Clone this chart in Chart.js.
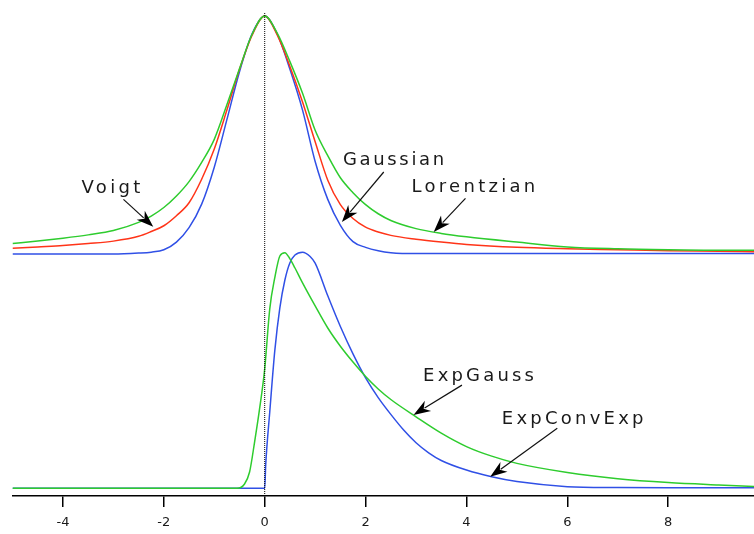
<!DOCTYPE html>
<html>
<head>
<meta charset="utf-8">
<script src="https://cdn.jsdelivr.net/npm/chart.js"></script>
<style>
html,body{margin:0;padding:0;background:#fff;overflow:hidden;}
#wrap{width:754px;height:534px;overflow:hidden;}
</style>
</head>
<body>
<div id="wrap"><canvas id="myChart" width="754" height="540"></canvas></div>
<script>
// top group: symmetric peaks (drawn above the lower group)
const topX=[-5,-4.5,-4,-3.5,-3,-2.5,-2.25,-2,-1.75,-1.5,-1.25,-1,-0.75,-0.5,-0.25,0,0.25,0.5,0.75,1,1.25,1.5,1.75,2,2.25,2.5,3,3.5,4,5,6,7,8,9,9.7];
const voigtY=[52.6,53.1,53.7,54.4,55.3,57.0,58.3,60.1,62.5,65.5,69.5,74.3,81.5,89.0,96.2,100,96.4,90.5,83.9,76.2,70.9,66.3,63.2,60.7,58.8,57.4,55.7,54.7,54.0,52.9,51.9,51.5,51.3,51.2,51.2];
const lorentzianY=[51.6,51.9,52.2,52.6,53.1,54.1,55.1,56.3,58.4,61.1,66.0,72.3,80.4,88.9,96.0,100,96.0,89.5,82.1,73.8,65.8,60.7,57.8,56.0,55.0,54.3,53.5,52.9,52.4,51.8,51.5,51.3,51.1,51.0,50.9];
const gaussianY=[50.4,50.4,50.4,50.4,50.4,50.6,50.8,51.3,52.9,55.9,60.8,68.5,78.4,88.4,96.3,100,96.2,88.9,80.4,69.7,61.8,56.4,53.0,51.8,51.1,50.7,50.5,50.5,50.5,50.5,50.5,50.5,50.5,50.5,50.5];

// lower group: tailed peaks
const expGaussX=[-5,-1,-0.55,-0.4,-0.3,-0.2,-0.1,0,0.1,0.2,0.3,0.4,0.5,0.6,0.75,1,1.25,1.5,1.75,2,2.25,2.5,3,3.5,4,4.5,5,6,7,8,9,9.7];
const expGaussY=[1.6,1.6,1.6,2.5,5.0,11.3,18.3,26.5,39.0,45.5,50.0,50.7,49.4,47.5,44.4,39.6,35.0,31.2,27.9,24.9,22.3,20.1,16.5,13.1,10.3,8.3,6.8,4.9,3.6,2.8,2.3,2.0];
const expConvX=[-5,-1,0,0.02,0.1,0.2,0.3,0.4,0.5,0.6,0.75,0.9,1,1.25,1.5,1.75,2,2.25,2.5,2.75,3,3.25,3.5,4,4.5,5,6,7,8,9.7];
const expConvExpY=[1.6,1.6,1.6,6.5,17.5,30.3,39.2,45.0,48.6,50.2,50.8,49.9,48.5,41.7,35.3,29.6,24.6,20.5,17.0,13.8,11.1,9.0,7.4,5.4,4.0,3.0,1.95,1.75,1.7,1.7];

const tickVals=[-4,-2,0,2,4,6,8];

// text + arrow annotations, in data units
const notes=[
  {text:"Voigt",tx:-3.63,ty:63.2,w:62,fx:-2.80,fy:61.8,ax:-2.21,ay:56.1},
  {text:"Gaussian",tx:1.55,ty:69.0,w:104,fx:2.36,fy:67.5,ax:1.53,ay:57.1},
  {text:"Lorentzian",tx:2.91,ty:63.3,w:127,fx:3.98,fy:62.0,ax:3.35,ay:55.0},
  {text:"ExpGauss",tx:3.14,ty:24.0,w:114,fx:3.91,fy:23.1,ax:2.95,ay:16.9},
  {text:"ExpConvExp",tx:4.70,ty:15.0,w:145,fx:5.80,fy:14.1,ax:4.47,ay:4.0}
];

const GREEN="#2ecc2e", RED="#ff3418", BLUE="#3050e6";

const series=(label,xs,ys,color)=>({
  label:label,
  data:xs.map((x,i)=>({x:x,y:ys[i]})),
  borderColor:color,
  borderWidth:1.5,
  pointRadius:0,
  fill:false,
  cubicInterpolationMode:"monotone",
  order:1
});

const notePlugin={
  id:"notes",
  afterDatasetsDraw(chart){
    const {ctx,scales:{x,y}}=chart;
    ctx.save();
    notes.forEach(n=>{
      const x1=x.getPixelForValue(n.fx),y1=y.getPixelForValue(n.fy);
      const x2=x.getPixelForValue(n.ax),y2=y.getPixelForValue(n.ay);
      const a=Math.atan2(y2-y1,x2-x1),c=Math.cos(a),s=Math.sin(a);
      const hl=17,hw=6;
      const bx=x2-hl*c,by=y2-hl*s;
      ctx.strokeStyle="#111";ctx.lineWidth=1.2;
      ctx.beginPath();ctx.moveTo(x1,y1);ctx.lineTo(bx+4*c,by+4*s);ctx.stroke();
      ctx.fillStyle="#000";
      ctx.beginPath();
      ctx.moveTo(x2,y2);
      ctx.lineTo(bx+hw*s,by-hw*c);
      ctx.lineTo(x2-hl*0.7*c,y2-hl*0.7*s);
      ctx.lineTo(bx-hw*s,by+hw*c);
      ctx.closePath();ctx.fill();
      ctx.font='18px "DejaVu Sans"';
      ctx.letterSpacing="0px";
      const w=ctx.measureText(n.text).width;
      ctx.letterSpacing=((n.w-w)/n.text.length)+"px";
      ctx.fillStyle="#1a1a1a";
      ctx.textAlign="left";ctx.textBaseline="alphabetic";
      ctx.fillText(n.text,x.getPixelForValue(n.tx),y.getPixelForValue(n.ty));
    });
    ctx.restore();
  }
};

const ctx=document.getElementById("myChart").getContext("2d");
new Chart(ctx,{
  type:"line",
  data:{
    datasets:[
      {label:"zero",data:[{x:0,y:0},{x:0,y:100.8}],borderColor:"#000",borderWidth:1,borderDash:[1,1],pointRadius:0,fill:false,order:0},
      series("Voigt",topX,voigtY,GREEN),
      series("Lorentzian",topX,lorentzianY,RED),
      series("Gaussian",topX,gaussianY,BLUE),
      series("ExpGauss",expGaussX,expGaussY,GREEN),
      series("ExpConvExp",expConvX,expConvExpY,BLUE)
    ]
  },
  options:{
    responsive:false,
    animation:false,
    devicePixelRatio:1,
    layout:{padding:{left:12.5,right:0,top:6.4,bottom:1.4}},
    plugins:{legend:{display:false},tooltip:{enabled:false}},
    scales:{
      x:{
        type:"linear",min:-5,max:9.7,
        afterBuildTicks:(s)=>{s.ticks=tickVals.map(v=>({value:v}));},
        grid:{drawOnChartArea:false,drawTicks:true,tickLength:11,color:"#000",lineWidth:1.5},
        border:{display:true,color:"#000",width:1.5},
        ticks:{color:"#1a1a1a",font:{family:"DejaVu Sans",size:13},padding:8,maxRotation:0,autoSkip:false}
      },
      y:{display:false,min:0,max:102}
    }
  },
  plugins:[notePlugin]
});
</script>
</body>
</html>
